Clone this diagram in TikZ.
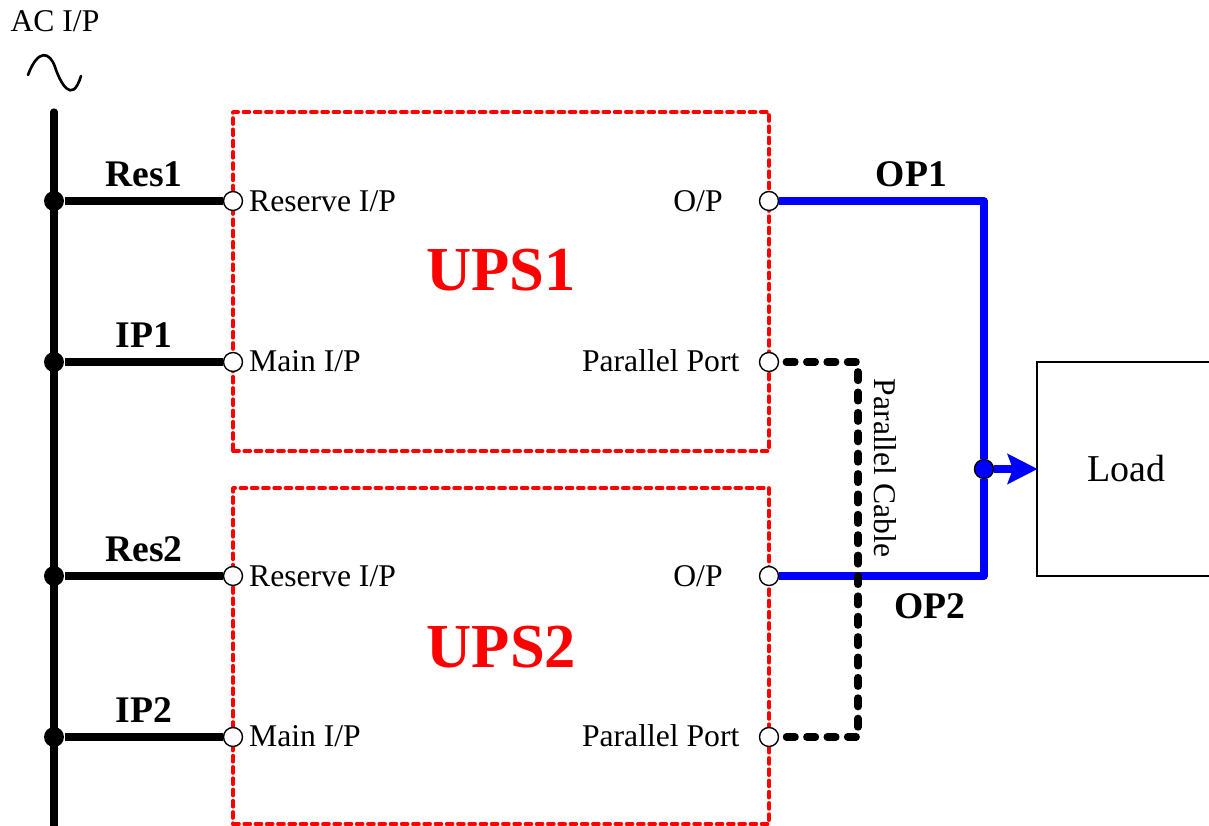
\documentclass[tikz,border=0pt]{standalone}
\usepackage{fontspec}
\setmainfont{Liberation Serif}
\usetikzlibrary{arrows.meta}
\tikzset{
  port/.style={circle,draw,line width=.4pt,fill=white,minimum size=.19cm,inner sep=0pt},
  dot/.style={circle,fill=black,minimum size=.2cm,inner sep=0pt},
  upsbox/.style={draw=red,line width=1.05pt,dash pattern=on 1.7pt off 1.5pt,line join=round,line cap=round,minimum width=5.36cm,inner sep=0pt},
  feed/.style={line width=2.05pt},
  output/.style={blue,line width=2.1pt,line join=round},
  cable/.style={line width=2.05pt,dash pattern=on 2.5pt off 3.3pt,line cap=round,line join=round},
  plain/.style={font=\fontsize{9}{11}\selectfont,inner sep=0pt},
  tag/.style={font=\fontsize{10.7}{12}\selectfont\bfseries,inner sep=0pt},
  title/.style={red,font=\fontsize{17.8}{20}\selectfont\bfseries,inner sep=0pt}
}
\begin{document}
\begin{tikzpicture}
 \useasboundingbox (0,0) rectangle (12.09,8.26);
 \node[plain] (acip) at (.55,8.05) {AC I/P};
 \draw[line width=.75pt,line cap=round] (.28,7.51) .. controls (.38,7.78) and (.50,7.74) .. (.55,7.59)
    .. controls (.60,7.44) and (.72,7.20) .. (.81,7.50);
 \node[upsbox,minimum height=3.39cm] (box1) at (5.01,5.445) {};
 \node[upsbox,minimum height=3.36cm] (box2) at (5.01,1.70) {};
 \coordinate (bustop) at (.54,7.14);
 \coordinate (busend) at (.54,0);
 \draw[feed,line cap=round] (bustop)--(busend);
 \foreach \n/\y in {1/0,2/-3.75} {
    \node[dot] (jres\n) at (.54,6.25+\y) {};
    \node[dot] (jip\n) at (.54,4.64+\y) {};
    \node[port] (res\n) at (2.33,6.25+\y) {};
    \node[port] (ip\n) at (2.33,4.64+\y) {};
    \node[port] (op\n) at (7.69,6.25+\y) {};
    \node[port] (par\n) at (7.69,4.64+\y) {};
    \draw[feed] (jres\n)--(res\n);
    \draw[feed] (jip\n)--(ip\n);
    \node[tag] at (1.44,6.52+\y) {Res\n};
    \node[tag] at (1.44,4.91+\y) {IP\n};
    \node[plain,anchor=west] at (2.485,6.25+\y) {Reserve I/P};
    \node[plain,anchor=west] at (2.485,4.65+\y) {Main I/P};
    \node[plain] at (6.98,6.25+\y) {O/P};
    \node[plain,anchor=east] at (7.40,4.65+\y) {Parallel Port};
 }
 \node[title] at (5.01,5.56) {UPS1};
 \node[title] at (5.015,1.79) {UPS2};
 \node[draw,line width=.7pt,minimum width=1.78cm,minimum height=2.14cm,inner sep=0pt,
    font=\fontsize{10.8}{12}\selectfont] (load) at (11.26,3.57) {Load};
 \node[circle,draw,line width=.4pt,fill=blue,minimum size=.19cm,inner sep=0pt] (sum) at (9.84,3.57) {};
 \coordinate (top) at (9.84,6.25);
 \coordinate (bot) at (9.84,2.50);
 \draw[output] (op1)--(top)--(sum);
 \draw[output] (op2)--(bot)--(sum);
 \draw[output,shorten >=-.5pt,-{Stealth[length=8.5pt,width=8.5pt,inset=1.5pt]}] (sum)--(load);
 \node[tag] at (9.115,6.52) {OP1};
 \node[tag] at (9.30,2.20) {OP2};
 \coordinate (bend1) at (8.58,4.64);
 \coordinate (bend2) at (8.58,.89);
 \draw[cable,shorten <=2pt] (par1)--(bend1)--(bend2)--(par2);
 \node[plain,rotate=-90] at (8.855,3.58) {Parallel Cable};
\end{tikzpicture}
\end{document}
